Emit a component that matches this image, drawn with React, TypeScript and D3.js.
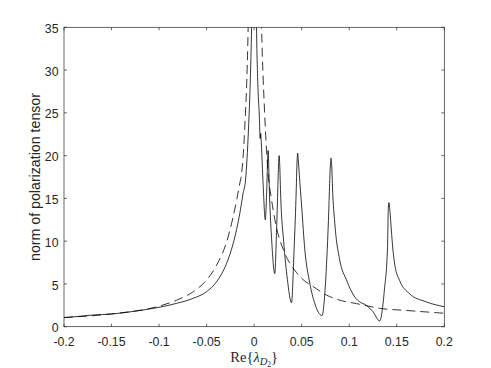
import React from "react";
import * as d3 from "d3";

// x positions and values (solid curve)
const solidX = [
  -0.2, -0.185, -0.169, -0.15, -0.134, -0.117, -0.1, -0.0815, -0.064, -0.05,
  -0.0395, -0.029, -0.022, -0.015, -0.0116, -0.009, -0.006, -0.004, -0.0027, -0.001,
  0.0005, 0.0015, 0.0025, 0.004, 0.0055, 0.0063, 0.0069, 0.0075, 0.0095, 0.0117,
  0.0135, 0.0143, 0.0147, 0.0151, 0.016, 0.0185, 0.0217, 0.0235, 0.025, 0.0258,
  0.0263, 0.0268, 0.028, 0.031, 0.035, 0.0393, 0.042, 0.044, 0.0452, 0.0458,
  0.0464, 0.048, 0.05, 0.0533, 0.0585, 0.0638, 0.0714, 0.075, 0.078, 0.0802,
  0.0809, 0.0816, 0.0825, 0.0848, 0.09, 0.097, 0.107, 0.111, 0.118, 0.125,
  0.132, 0.137, 0.1403, 0.1411, 0.1418, 0.1425, 0.1443, 0.1458, 0.148, 0.153,
  0.163, 0.181, 0.2,
];
const solidY = [
  1.06, 1.2, 1.37, 1.48, 1.68, 1.95, 2.27, 2.73, 3.32, 4.1,
  5.26, 7.4, 9.75, 13.3, 15.6, 17.2, 23, 29, 35, 50,
  60, 45, 35, 28, 24.5, 22.0, 22.6, 21.5, 16.5, 12.5,
  17, 19.9, 20.6, 19.7, 16, 10, 6.2, 11, 16.5, 19.3,
  20.0, 19.2, 15, 10, 5.5, 2.8, 9, 15, 19.5, 20.3,
  19.5, 17, 14.0, 9.0, 5.1, 2.7, 1.3, 5, 12, 18.9,
  19.7, 18.8, 16, 12.1, 7.8, 5.5, 3.3, 2.9, 2.5, 1.75,
  0.67, 4.3, 9.35, 13.8, 14.5, 13.9, 11.3, 9.2, 7.2, 5.4,
  3.9, 2.9, 2.34,
];

// dashed curve
const dashX = [
  -0.2, -0.15, -0.1, -0.0815, -0.064, -0.05, -0.0395, -0.029, -0.022, -0.015,
  -0.0132, -0.01, -0.0063, -0.003, 0.0007, 0.004, 0.0078, 0.0109, 0.0151, 0.0178,
  0.0225, 0.0322, 0.0427, 0.0515, 0.062, 0.076, 0.09, 0.1076, 0.118, 0.132,
  0.16, 0.2,
];
const dashY = [
  1.08, 1.5, 2.4, 3.1, 4.1, 5.46, 7.2, 9.9, 12.9, 16.8,
  17.9, 23, 35, 60, 90, 60, 35, 25.3, 17.4, 15.2,
  12.1, 8.6, 6.6, 5.5, 4.7, 3.7, 3.1, 2.7, 2.45, 2.15,
  1.9, 1.57,
];

const xTicks = [-0.2, -0.15, -0.1, -0.05, 0, 0.05, 0.1, 0.15, 0.2];
const xTickLabels = ["-0.2", "-0.15", "-0.1", "-0.05", "0", "0.05", "0.1", "0.15", "0.2"];
const yTicks = [0, 5, 10, 15, 20, 25, 30, 35];
const yTickLabels = ["0", "5", "10", "15", "20", "25", "30", "35"];

const W = 491;
const H = 368;
const L = 64;
const R = 444.3;
const T = 27.3;
const B = 326.7;
const AX = "#262626";
const TL = 3;

export default function App() {
  const x = d3.scaleLinear().domain([-0.2, 0.2]).range([L, R]);
  const y = d3.scaleLinear().domain([0, 35]).range([B, T]);
  const line = d3
    .line<[number, number]>()
    .x((d) => x(d[0]))
    .y((d) => y(d[1]))
    .curve(d3.curveMonotoneX);
  const solid = solidX.map((v, i) => [v, solidY[i]] as [number, number]);
  const dashed = dashX.map((v, i) => [v, dashY[i]] as [number, number]);
  const font = "'Liberation Sans', Arial, Helvetica, sans-serif";

  return (
    <svg
      width={W}
      height={H}
      style={{ position: "absolute", left: 0, top: 0, background: "#fff" }}
    >
      <defs>
        <clipPath id="plotclip">
          <rect x={L} y={T} width={R - L} height={B - T} />
        </clipPath>
      </defs>
      <rect x={0} y={0} width={W} height={H} fill="#fff" />
      <g clipPath="url(#plotclip)" fill="none" stroke="#000" strokeWidth={0.8}>
        <path d={line(dashed) || ""} strokeDasharray="9,5" />
        <path d={line(solid) || ""} />
      </g>
      {/* box */}
      <rect x={L} y={T} width={R - L} height={B - T} fill="none" stroke={AX} strokeWidth={0.7} />
      {/* x ticks */}
      {xTicks.map((t, i) => (
        <g key={"xt" + i}>
          <line x1={x(t)} x2={x(t)} y1={B} y2={B - TL} stroke={AX} strokeWidth={0.7} />
          <line x1={x(t)} x2={x(t)} y1={T} y2={T + TL} stroke={AX} strokeWidth={0.7} />
          <text
            x={x(t)}
            y={345.7}
            textAnchor="middle"
            fontFamily={font}
            fontSize={12.3}
            fill={AX}
          >
            {xTickLabels[i]}
          </text>
        </g>
      ))}
      {/* y ticks */}
      {yTicks.map((t, i) => (
        <g key={"yt" + i}>
          <line x1={L} x2={L + TL} y1={y(t)} y2={y(t)} stroke={AX} strokeWidth={0.7} />
          <line x1={R} x2={R - TL} y1={y(t)} y2={y(t)} stroke={AX} strokeWidth={0.7} />
          <text
            x={58.5}
            y={y(t) + 5.6}
            textAnchor="end"
            fontFamily={font}
            fontSize={12.3}
            fill={AX}
          >
            {yTickLabels[i]}
          </text>
        </g>
      ))}
      {/* y label */}
      <text
        transform={`translate(39.5,${(T + B) / 2}) rotate(-90)`}
        textAnchor="middle"
        fontFamily={font}
        fontSize={14.2}
        fill={AX}
      >
        norm of polarization tensor
      </text>
      {/* x label */}
      <text
        x={(L + R) / 2}
        y={362.3}
        textAnchor="middle"
        fontFamily="'Liberation Serif', 'Times New Roman', serif"
        fontSize={14.5}
        fill={AX}
      >
        <tspan>Re{"{"}</tspan>
        <tspan fontStyle="italic">λ</tspan>
        <tspan fontStyle="italic" fontSize={10.5} dy={3}>
          D
        </tspan>
        <tspan fontSize={7.5} dy={1.8}>
          2
        </tspan>
        <tspan dy={-4.8}>{"}"}</tspan>
      </text>
    </svg>
  );
}
